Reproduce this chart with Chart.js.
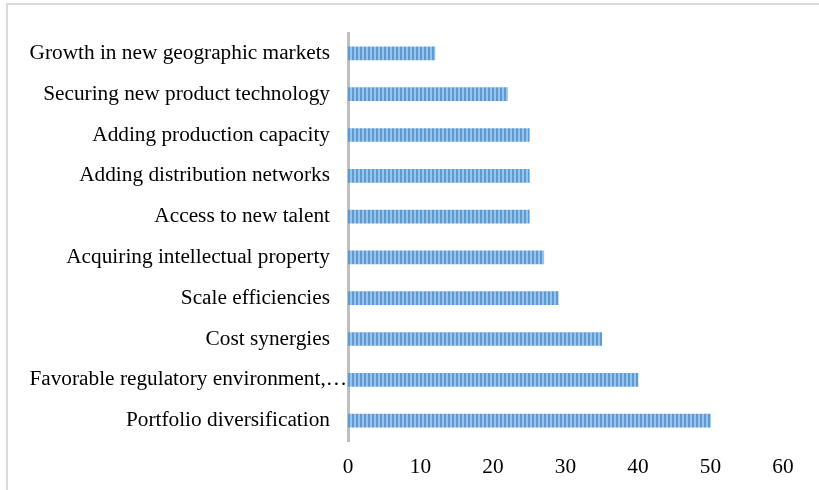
<!DOCTYPE html>
<html>
<head>
<meta charset="utf-8">
<script src="https://cdn.jsdelivr.net/npm/chart.js@4"></script>
<style>
html,body{margin:0;padding:0;background:#fff;}
#wrap{width:819px;height:490px;position:relative;}
</style>
</head>
<body>
<div id="wrap"><canvas id="c" width="819" height="490"></canvas></div>
<script>
const categories = [
  "Growth in new geographic markets",
  "Securing new product technology",
  "Adding production capacity",
  "Adding distribution networks",
  "Access to new talent",
  "Acquiring intellectual property",
  "Scale efficiencies",
  "Cost synergies",
  "Favorable regulatory environment,\u2026",
  "Portfolio diversification"
];
const values = [12, 22, 25, 25, 25, 27, 29, 35, 40, 50];
const xTicks = [0, 10, 20, 30, 40, 50, 60];

const FONT_FAMILY = '"Liberation Serif", "Times New Roman", serif';
const FONT_SIZE = 21.3;

function stripePattern() {
  const p = document.createElement('canvas');
  p.width = 4; p.height = 4;
  const g = p.getContext('2d');
  g.fillStyle = '#5b9bd5';
  g.fillRect(0, 0, 2, 4);
  g.fillStyle = '#9cc2e8';
  g.fillRect(2, 0, 2, 4);
  return document.getElementById('c').getContext('2d').createPattern(p, 'repeat');
}

const framePlugin = {
  id: 'frame',
  beforeDraw(chart) {
    const ctx = chart.ctx;
    ctx.save();
    ctx.fillStyle = '#ffffff';
    ctx.fillRect(0, 0, chart.width, chart.height);
    ctx.strokeStyle = '#d9d9d9';
    ctx.lineWidth = 2;
    ctx.beginPath();
    ctx.moveTo(7, chart.height);
    ctx.lineTo(7, 4);
    ctx.lineTo(chart.width, 4);
    ctx.stroke();
    ctx.restore();
  }
};

// category labels: right-aligned; truncated (ellipsis) labels run up to the axis as in the original
const yLabelPlugin = {
  id: 'yLabels',
  afterDraw(chart) {
    const ctx = chart.ctx;
    const ys = chart.scales.y;
    const left = chart.chartArea.left;
    ctx.save();
    ctx.font = FONT_SIZE + 'px ' + FONT_FAMILY;
    ctx.fillStyle = '#000';
    ctx.textAlign = 'right';
    ctx.textBaseline = 'middle';
    categories.forEach((lab, i) => {
      const y = ys.getPixelForValue(i);
      const x = lab.endsWith('\u2026') ? left - 1 : left - 18;
      ctx.fillText(lab, x, y);
    });
    ctx.restore();
  }
};

const font = { family: FONT_FAMILY, size: FONT_SIZE };

new Chart(document.getElementById('c'), {
  type: 'bar',
  data: {
    labels: categories,
    datasets: [{
      data: values,
      backgroundColor: stripePattern(),
      borderWidth: 0,
      barThickness: 13
    }]
  },
  options: {
    indexAxis: 'y',
    responsive: false,
    animation: false,
    layout: { padding: { top: 33, right: 36, left: 0, bottom: 0 } },
    plugins: { legend: { display: false }, tooltip: { enabled: false } },
    scales: {
      x: {
        min: 0, max: 60,
        afterBuildTicks(s) { s.ticks = xTicks.map(v => ({ value: v })); },
        grid: { display: false, drawTicks: false },
        border: { display: false },
        ticks: { font: font, color: '#000', padding: 14 },
        afterFit(s) { s.height = 49; }
      },
      y: {
        z: 1,
        grid: { display: false, drawTicks: false },
        border: { display: true, color: '#bfbfbf', width: 3 },
        ticks: { display: false, font: font },
        afterFit(s) { s.width = 348; }
      }
    }
  },
  plugins: [framePlugin, yLabelPlugin]
});
</script>
</body>
</html>
